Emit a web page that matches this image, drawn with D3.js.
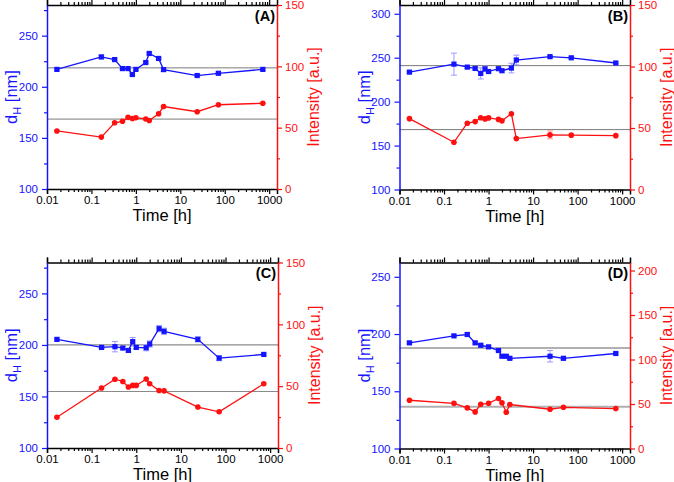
<!DOCTYPE html>
<html>
<head>
<meta charset="utf-8">
<script src="https://cdn.jsdelivr.net/npm/d3@7"></script>
<style>
  body { margin: 0; background: #fff; }
  text { font-family: "Liberation Sans", Arial, sans-serif; }
</style>
</head>
<body>
<svg id="chart" width="674" height="482"></svg>
<script>
// sampling times in hours (A-C share one schedule, D has its own)
const timeH = [0.0167, 0.167, 0.333, 0.5, 0.667, 0.833, 1, 1.67, 2, 3.25, 4.2, 24, 72, 720];
const timeHD = [0.0167, 0.167, 0.333, 0.5, 0.667, 1, 1.67, 2, 2.5, 3, 24, 48, 720];

const xMajor = [0.01, 0.1, 1, 10, 100, 1000];
const xMinor = [0.02, 0.03, 0.04, 0.05, 0.06, 0.07, 0.08, 0.09,
  0.2, 0.3, 0.4, 0.5, 0.6, 0.7, 0.8, 0.9, 2, 3, 4, 5, 6, 7, 8, 9,
  20, 30, 40, 50, 60, 70, 80, 90, 200, 300, 400, 500, 600, 700, 800, 900];

// hydrodynamic diameter (nm) and error
const dhA = [217, 229.2, 226.6, 217.8, 217.8, 212, 217, 223.7, 232.6, 227.7, 216.8, 211, 213.2, 217];
const dhErrA = [1, 1.8, 1, 1, 1, 1, 1, 1, 1, 1, 1.8, 1, 1, 1];
const dhB = [233.6, 242.7, 239.3, 237.8, 232.1, 237.3, 234.3, 237.5, 235.2, 238.2, 247.4, 251.2, 249.9, 244];
const dhErrB = [1, 12.5, 1.5, 1.5, 6.3, 3, 1.5, 1.5, 1.5, 5.5, 5.5, 1, 1, 1];
const dhC = [205.4, 197.6, 198.3, 197, 194.7, 203.2, 197.6, 197.3, 200.9, 215.8, 213.2, 205.4, 187.2, 190.8];
const dhErrC = [1, 1, 5, 1.5, 1.5, 4, 1.5, 3, 3, 3, 3, 2.5, 2.5, 1];
const dhD = [192.3, 198.4, 199.6, 192.3, 190.2, 188.8, 185.6, 180.6, 180.6, 178.8, 180.6, 178.8, 183];
const dhErrD = [1, 1, 1.5, 1, 1, 1, 1, 1, 1, 1, 5, 1, 1];

// scattered intensity (a.u.)
const intA = [47.3, 42.3, 54, 55.2, 58.4, 57.5, 58.1, 57.1, 55.8, 61.4, 67.2, 63, 68.7, 69.9];
const intB = [57.6, 38.4, 53.9, 55.2, 58.3, 57.4, 58.2, 57, 55.8, 61.6, 41.4, 44.4, 44.2, 43.8];
const intErrB = [0, 0, 0, 0, 0, 0, 0, 0, 0, 0, 0, 3.2, 0, 0];
const intC = [24.9, 48.5, 55.6, 53.8, 49.3, 50.6, 50.6, 55.7, 51.9, 46.5, 46.2, 33.1, 29.3, 51.9];
const intD = [54.2, 50.8, 45.6, 41.1, 49.7, 50.8, 56.2, 51.3, 40.7, 49.4, 44.1, 46.3, 44.9];

// grey reference levels [dH, intensity]
const refA = [218.5, 57];
const refB = [241, 48.7];
const refC = [200, 45.7];
const refD = [187.7, 46.9];

const panels = [
  { tag: "(A)", x0: 47, x1: 277, y0: 5, y1: 189, t: timeH, dh: dhA, dhErr: dhErrA, inten: intA, intErr: null,
    dhDom: [100, 280], dhTicks: [100, 150, 200, 250], dhMinor: [125, 175, 225, 275],
    intDom: [0, 150], intTicks: [0, 50, 100, 150], intMinor: [25, 75, 125], ref: refA, refCol: "#7a7a7a", refW: 1 },
  { tag: "(B)", x0: 399.5, x1: 630, y0: 5, y1: 189.5, t: timeH, dh: dhB, dhErr: dhErrB, inten: intB, intErr: intErrB,
    dhDom: [100, 310], dhTicks: [100, 150, 200, 250, 300], dhMinor: [125, 175, 225, 275],
    intDom: [0, 150], intTicks: [0, 50, 100, 150], intMinor: [25, 75, 125], ref: refB, refCol: "#7a7a7a", refW: 1 },
  { tag: "(C)", x0: 47, x1: 278, y0: 262.5, y1: 448, t: timeH, dh: dhC, dhErr: dhErrC, inten: intC, intErr: null,
    dhDom: [100, 280], dhTicks: [100, 150, 200, 250], dhMinor: [125, 175, 225, 275],
    intDom: [0, 150], intTicks: [0, 50, 100, 150], intMinor: [25, 75, 125], ref: refC, refCol: "#8a8a8a", refW: 1.2 },
  { tag: "(D)", x0: 399.5, x1: 630, y0: 262.5, y1: 448.5, t: timeHD, dh: dhD, dhErr: dhErrD, inten: intD, intErr: null,
    dhDom: [100, 262.5], dhTicks: [100, 150, 200, 250], dhMinor: [125, 175, 225],
    intDom: [0, 209], intTicks: [0, 50, 100, 150, 200], intMinor: [25, 75, 125, 175], ref: refD, refCol: "#b0b0b0", refW: 2 }
];

const BLUE = "#1414ff", RED = "#ff1010";
const svg = d3.select("#chart");

function styleAxis(g, color, fs) {
  g.select(".domain").attr("stroke", color).attr("stroke-width", 1.5);
  g.selectAll(".tick line").attr("stroke", color).attr("stroke-width", 1.2);
  g.selectAll(".tick text").attr("fill", color).style("font-size", fs + "px")
    .style("font-family", "'Liberation Sans', Arial, sans-serif");
}

panels.forEach(p => {
  const x = d3.scaleLog().domain([0.01, 1500]).range([p.x0, p.x1]);
  const yL = d3.scaleLinear().domain(p.dhDom).range([p.y1, p.y0]);
  const yR = d3.scaleLinear().domain(p.intDom).range([p.y1, p.y0]);
  const g = svg.append("g");

  // reference lines
  g.append("line").attr("x1", p.x0).attr("x2", p.x1).attr("y1", yL(p.ref[0])).attr("y2", yL(p.ref[0]))
    .attr("stroke", p.refCol).attr("stroke-width", p.refW);
  g.append("line").attr("x1", p.x0).attr("x2", p.x1).attr("y1", yR(p.ref[1])).attr("y2", yR(p.ref[1]))
    .attr("stroke", p.refCol).attr("stroke-width", p.refW);

  // bottom axis
  const bx = g.append("g").attr("transform", `translate(0,${p.y1})`)
    .call(d3.axisBottom(x).tickValues(xMajor).tickSize(5).tickPadding(2).tickFormat(d => String(d)));
  styleAxis(bx, "#000", 11.5);
  const bxm = g.append("g").attr("transform", `translate(0,${p.y1})`)
    .call(d3.axisBottom(x).tickValues(xMinor).tickSize(3).tickFormat(""));
  styleAxis(bxm, "#000", 11);
  bxm.select(".domain").remove();

  // top axis
  const tx = g.append("g").attr("transform", `translate(0,${p.y0})`)
    .call(d3.axisTop(x).tickValues(xMajor).tickSize(5).tickFormat(""));
  styleAxis(tx, "#000", 11);
  const txm = g.append("g").attr("transform", `translate(0,${p.y0})`)
    .call(d3.axisTop(x).tickValues(xMinor).tickSize(3).tickFormat(""));
  styleAxis(txm, "#000", 11);
  txm.select(".domain").remove();

  // left axis (dH)
  const la = g.append("g").attr("transform", `translate(${p.x0},0)`)
    .call(d3.axisLeft(yL).tickValues(p.dhTicks).tickSize(5).tickPadding(4).tickSizeOuter(0));
  styleAxis(la, BLUE, 11.5);
  const lam = g.append("g").attr("transform", `translate(${p.x0},0)`)
    .call(d3.axisLeft(yL).tickValues(p.dhMinor).tickSize(3).tickFormat(""));
  styleAxis(lam, BLUE, 11);
  lam.select(".domain").remove();

  // right axis (intensity)
  const ra = g.append("g").attr("transform", `translate(${p.x1},0)`)
    .call(d3.axisRight(yR).tickValues(p.intTicks).tickSize(5).tickPadding(3).tickSizeOuter(0));
  styleAxis(ra, RED, 11.5);
  const ram = g.append("g").attr("transform", `translate(${p.x1},0)`)
    .call(d3.axisRight(yR).tickValues(p.intMinor).tickSize(3).tickFormat(""));
  styleAxis(ram, RED, 11);
  ram.select(".domain").remove();

  // titles
  g.append("text").attr("x", (p.x0 + p.x1) / 2).attr("y", p.y1 + 32)
    .attr("text-anchor", "middle").style("font-size", "16.5px").style("font-weight", "normal")
    .attr("fill", "#000").text("Time [h]");

  const lt = g.append("text")
    .attr("transform", `translate(${p.x0 - 30},${(p.y0 + p.y1) / 2}) rotate(-90)`)
    .attr("text-anchor", "middle").style("font-size", "16.5px").attr("fill", BLUE);
  lt.append("tspan").text("d");
  lt.append("tspan").attr("dy", 4).style("font-size", "11px").text("H");
  lt.append("tspan").attr("dy", -4).text(" [nm]");

  g.append("text")
    .attr("transform", `translate(${p.x1 + 42},${(p.y0 + p.y1) / 2}) rotate(-90)`)
    .attr("text-anchor", "middle").style("font-size", "16px").attr("fill", RED).text("Intensity [a.u.]");

  g.append("text").attr("x", p.x1 - 2).attr("y", p.y0 + 15.5).attr("text-anchor", "end")
    .style("font-size", "14.5px").style("font-weight", "bold").attr("fill", "#000").text(p.tag);

  // dH series
  const dhPts = p.t.map((t, i) => ({ t, v: p.dh[i], e: p.dhErr[i] }));
  const inPts = p.t.map((t, i) => ({ t, v: p.inten[i], e: p.intErr ? p.intErr[i] : 0 }));

  g.append("g").selectAll("g").data(dhPts.filter(d => d.e > 0)).join("g").each(function (d) {
    const s = d3.select(this), cx = x(d.t), top = yL(d.v + d.e), bot = yL(d.v - d.e);
    s.append("line").attr("x1", cx).attr("x2", cx).attr("y1", top).attr("y2", bot);
    s.append("line").attr("x1", cx - 3).attr("x2", cx + 3).attr("y1", top).attr("y2", top);
    s.append("line").attr("x1", cx - 3).attr("x2", cx + 3).attr("y1", bot).attr("y2", bot);
  }).attr("stroke", "#9a9aff").attr("stroke-width", 1);

  g.append("g").selectAll("g").data(inPts.filter(d => d.e > 0)).join("g").each(function (d) {
    const s = d3.select(this), cx = x(d.t), top = yR(d.v + d.e), bot = yR(d.v - d.e);
    s.append("line").attr("x1", cx).attr("x2", cx).attr("y1", top).attr("y2", bot);
    s.append("line").attr("x1", cx - 3).attr("x2", cx + 3).attr("y1", top).attr("y2", top);
    s.append("line").attr("x1", cx - 3).attr("x2", cx + 3).attr("y1", bot).attr("y2", bot);
  }).attr("stroke", "#ff9a9a").attr("stroke-width", 1);

  g.append("path").datum(dhPts).attr("fill", "none").attr("stroke", BLUE).attr("stroke-width", 1.3)
    .attr("d", d3.line().x(d => x(d.t)).y(d => yL(d.v)));
  g.append("path").datum(inPts).attr("fill", "none").attr("stroke", RED).attr("stroke-width", 1.3)
    .attr("d", d3.line().x(d => x(d.t)).y(d => yR(d.v)));

  g.append("g").selectAll("rect").data(dhPts).join("rect")
    .attr("x", d => x(d.t) - 2.6).attr("y", d => yL(d.v) - 2.6)
    .attr("width", 5.2).attr("height", 5.2).attr("fill", BLUE);
  g.append("g").selectAll("circle").data(inPts).join("circle")
    .attr("cx", d => x(d.t)).attr("cy", d => yR(d.v)).attr("r", 2.8).attr("fill", RED);
});
</script>
</body>
</html>
